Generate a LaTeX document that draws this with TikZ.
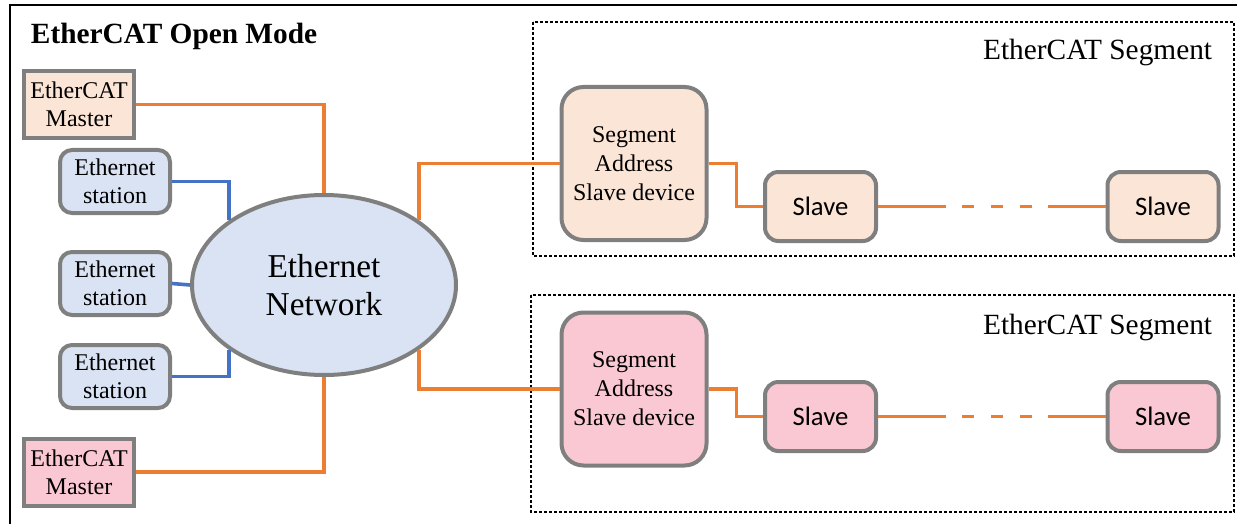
\documentclass[tikz,border=0pt]{standalone}
\usepackage{fontspec}
\setmainfont{Liberation Serif}
\newfontfamily\slavefont{Carlito}
\usetikzlibrary{shapes.geometric}

\definecolor{peach}{RGB}{251,229,214}
\definecolor{paleblue}{RGB}{218,227,243}
\definecolor{palepink}{RGB}{250,200,210}
\definecolor{boxgray}{RGB}{127,127,127}
\definecolor{linkorange}{RGB}{237,125,49}
\definecolor{linkblue}{RGB}{68,114,196}

\tikzset{every picture/.style={line width=0.75pt}}
\tikzset{
  devbox/.style={draw=boxgray, line width=3pt, align=center, inner sep=0pt,
    font=\fontsize{18}{21}\selectfont},
  masterbox/.style={devbox, minimum width=82.5pt, minimum height=50.25pt},
  stationbox/.style={devbox, fill=paleblue, rounded corners=9pt,
    minimum width=82.5pt, minimum height=47.25pt},
  segaddrbox/.style={devbox, rounded corners=16.5pt, minimum width=108.75pt,
    minimum height=114.75pt, font=\fontsize{18}{21.75}\selectfont},
  slavebox/.style={devbox, rounded corners=10pt, minimum width=83.25pt,
    minimum height=51.75pt, font=\slavefont\fontsize{20}{24}\selectfont},
  segframe/.style={draw=black, line width=2pt, dash pattern=on 2pt off 1.75pt},
  catlink/.style={draw=linkorange, line width=2.7pt},
  lanlink/.style={draw=linkblue, line width=2.7pt}
}

\begin{document}
\begin{tikzpicture}[x=0.75pt,y=0.75pt,yscale=-1,xscale=1]
		\useasboundingbox (0,0) rectangle (1237,524);

		%Outer frame
		\draw [line width=1.6pt]  (10,530) -- (10,5) -- (1245,5) ;
		%Segment frames
		\draw [segframe]  (533,22) rectangle (1234,256) ;
		\draw [segframe]  (531,295) rectangle (1234,512) ;

		% Text Node
		\draw (26,36) node [anchor=west, font=\bfseries\fontsize{22}{26}\selectfont] (title) {EtherCAT Open Mode};
		% Text Node
		\draw (1217,52) node [anchor=east, font=\fontsize{22}{26}\selectfont] (seglabA) {EtherCAT Segment};
		% Text Node
		\draw (1217,327) node [anchor=east, font=\fontsize{22}{26}\selectfont] (seglabB) {EtherCAT Segment};

		%Masters and stations
		\draw (79,104.5) node [masterbox, fill=peach] (mastA) {EtherCAT\\Master};
		\draw (115,181.5) node [stationbox] (statA) {Ethernet\\station};
		\draw (115,283.5) node [stationbox] (statB) {Ethernet\\station};
		\draw (115,376.5) node [stationbox] (statC) {Ethernet\\station};
		\draw (79,472) node [masterbox, fill=palepink] (mastB) {EtherCAT\\Master};

		%Shape: Ellipse
		\draw (324,285) node [ellipse, draw=boxgray, line width=3pt, fill=paleblue, inner sep=0pt,
		  minimum width=198pt, minimum height=135pt, align=center,
		  font=\fontsize{25}{29}\selectfont] (net) {Ethernet\\Network};

		%Segment address slaves
		\draw (634,163.5) node [segaddrbox, fill=peach] (saddrA) {Segment\\Address\\Slave device};
		\draw (634,389) node [segaddrbox, fill=palepink] (saddrB) {Segment\\Address\\Slave device};

		%Slaves
		\draw (820.5,206.5) node [slavebox, fill=peach] (slvA) {Slave};
		\draw (1163,206.5) node [slavebox, fill=peach] (slvB) {Slave};
		\draw (820.5,416.5) node [slavebox, fill=palepink] (slvC) {Slave};
		\draw (1163,416.5) node [slavebox, fill=palepink] (slvD) {Slave};

		%Straight Lines
		\draw [catlink]  (mastA.east) -| (net.north) ;
		\draw [catlink]  (mastB.east) -| (net.south) ;
		\draw [lanlink]  (statA.east) -| (net.north west) ;
		\draw [lanlink]  (statB.east) -- (net.west) ;
		\draw [lanlink]  (statC.east) -| (net.south west) ;
		\draw [catlink]  (net.north east) |- (saddrA.west) ;
		\draw [catlink]  (net.south east) |- (saddrB.west) ;
		\draw [catlink]  (saddrA.east) -- ++(28,0) |- (slvA.west) ;
		\draw [catlink]  (saddrB.east) -- ++(28,0) |- (slvC.west) ;
		\draw [catlink, dash pattern=on 51pt off 12pt on 9pt off 12.75pt on 9pt off 12.75pt on 9pt off 12pt on 60pt]  (slvA.east) -- (slvB.west) ;
		\draw [catlink, dash pattern=on 51pt off 12pt on 9pt off 12.75pt on 9pt off 12.75pt on 9pt off 12pt on 60pt]  (slvC.east) -- (slvD.west) ;

		\end{tikzpicture}
\end{document}
